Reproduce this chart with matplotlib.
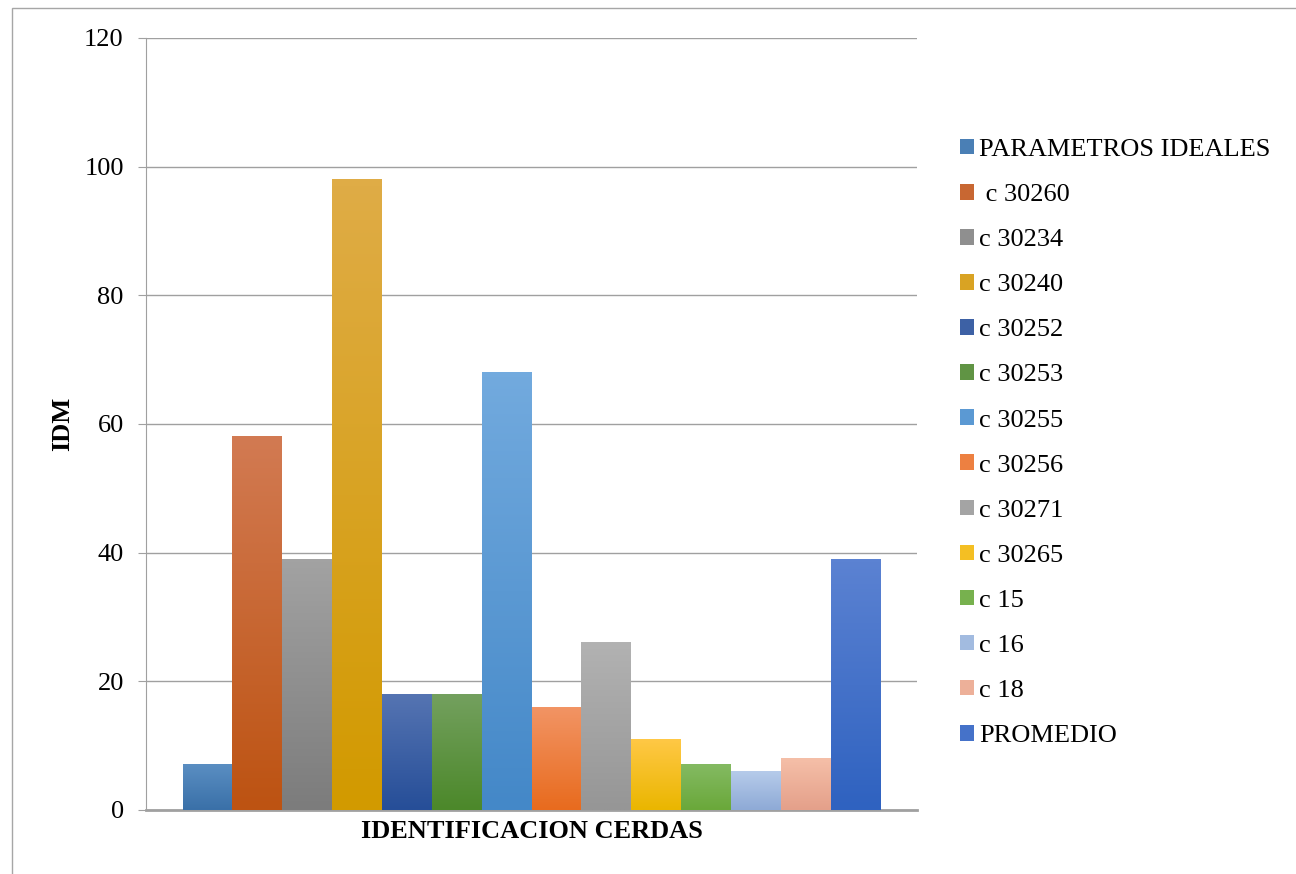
import numpy as np
import matplotlib
matplotlib.use('Agg')
import matplotlib.pyplot as plt
from matplotlib.colors import LinearSegmentedColormap, to_rgb
from matplotlib.patches import Patch, Rectangle

plt.rcParams['font.family'] = ['Liberation Serif', 'DejaVu Serif']

# data
labels = ['PARAMETROS IDEALES', ' c 30260', 'c 30234', 'c 30240', 'c 30252',
          'c 30253', 'c 30255', 'c 30256', 'c 30271', 'c 30265', 'c 15',
          'c 16', 'c 18', 'PROMEDIO']
values = [7, 58, 39, 98, 18, 18, 68, 16, 26, 11, 7, 6, 8, 39]

# (top, bottom) colours of each bar gradient
tops = ['#5a8ec2', '#d27a52', '#a2a2a2', '#dfac46', '#5574b2', '#73a05e',
        '#72aade', '#f29464', '#b2b2b2', '#ffc845', '#84ba62', '#b6cbea',
        '#f5bfa8', '#5b82d2']
bottoms = ['#3a70a8', '#bd5312', '#7c7c7c', '#d29a00', '#264e98', '#4c882a',
           '#4488c8', '#e86b1e', '#969696', '#eab600', '#6aa83a', '#8eaad6',
           '#e4a08a', '#2f62c0']

fig = plt.figure(figsize=(12.96, 8.74), dpi=100)
ax = fig.add_axes([146/1296, 1 - 810/874, (917-146)/1296, (810-38)/874])

# outer chart border
fig.patches.append(Rectangle((12/1296, -0.1), 2, 1.1 - 8/874,
                             transform=fig.transFigure, fill=False,
                             edgecolor='#a6a6a6', lw=1))

n = len(values)
group = 0.905
w = group / n
grad = np.linspace(0, 1, 64).reshape(-1, 1)
for i, v in enumerate(values):
    x0 = -group/2 + i*w
    cmap = LinearSegmentedColormap.from_list('g%d' % i, [bottoms[i], tops[i]])
    ax.imshow(grad, extent=[x0, x0 + w, 0, v], origin='lower', aspect='auto',
              cmap=cmap, zorder=3, interpolation='bilinear')

ax.set_xlim(-0.5, 0.5)
ax.set_ylim(0, 120)
ax.set_yticks(np.arange(0, 121, 20))
ax.set_xticks([])
ax.grid(axis='y', color='#a0a0a0', lw=1, zorder=0)
ax.set_axisbelow(True)
for s in ['top', 'right']:
    ax.spines[s].set_visible(False)
ax.spines['left'].set_color('#a0a0a0')
ax.spines['bottom'].set_color('#a0a0a0')
ax.spines['bottom'].set_linewidth(2)
ax.tick_params(axis='y', length=6, color='#a0a0a0', labelsize=19, pad=10)

ax.set_ylabel('IDM', fontsize=19, fontweight='bold', labelpad=7)
ax.set_xlabel('IDENTIFICACION CERDAS', fontsize=19, fontweight='bold', labelpad=7)

mids = [tuple((np.array(to_rgb(t)) + np.array(to_rgb(b))) / 2)
        for t, b in zip(tops, bottoms)]
handles = [Patch(facecolor=mids[i], edgecolor='none') for i in range(n)]
fig.legend(handles, labels, loc='center left', bbox_to_anchor=(960/1296, 1 - 443/874),
           frameon=False, fontsize=19, handlelength=0.53, handleheight=0.53,
           handletextpad=0.2, labelspacing=0.87, borderpad=0, borderaxespad=0)

fig.savefig('out.png', dpi=100)
